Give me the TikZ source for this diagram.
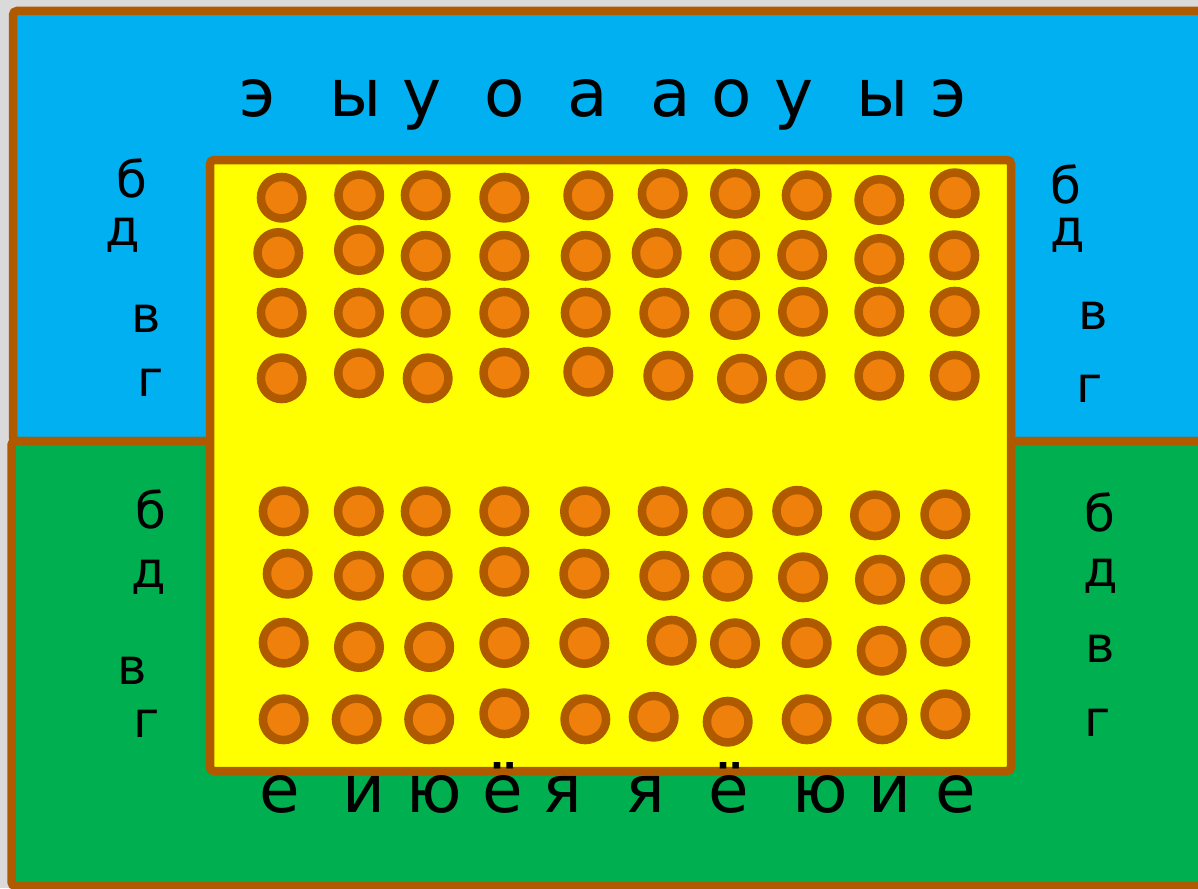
\documentclass[tikz,border=0pt]{standalone}
\usepackage{fontspec}
\setmainfont{DejaVu Sans}
\definecolor{bg}{HTML}{DADADA}
\definecolor{sky}{HTML}{00B0F0}
\definecolor{grn}{HTML}{00B050}
\definecolor{ylw}{HTML}{FFFF00}
\definecolor{brn}{HTML}{B05A00}
\definecolor{org}{HTML}{F0800C}
\tikzset{
  panel/.style={draw=brn, line width=8.5pt, rounded corners=4pt},
  dot/.style={circle, draw=brn, fill=org, line width=8.5pt, minimum size=41.5pt, inner sep=0pt},
  bigletter/.style={anchor=base, inner sep=0pt, font=\fontsize{66}{70}\selectfont},
  sideletter/.style={anchor=base, inner sep=0pt, font=\fontsize{50}{54}\selectfont}
}
\begin{document}
\begin{tikzpicture}[x=1pt,y=-1pt]
\useasboundingbox (0,0) rectangle (1198,888);
\clip (0,0) rectangle (1198,888);
\fill[bg] (0,0) rectangle (1198,888);
% panels
\draw[panel, fill=sky] (13,11) rectangle (1220,441);
\draw[panel, fill=grn] (11.5,441) rectangle (1220,886);
\draw[panel, fill=ylw] (210,160) rectangle (1011,771);
% circles
\foreach \x/\y [count=\i] in {281.7/197.7,359.2/195.3,425.7/195.3,504.3/197.7,588.3/195.3,662.7/193.7,735/193.7,806.7/195.3,879.3/200,954.7/193.3}
  \node[dot] (c1-\i) at (\x,\y) {};
\foreach \x/\y [count=\i] in {278.3/253,359/250,425.7/255.8,504.3/255.8,585.7/255.8,656.7/253,735/255.3,802.2/255,879.3/259,954.3/255.3}
  \node[dot] (c2-\i) at (\x,\y) {};
\foreach \x/\y [count=\i] in {281.7/312.7,359/312.7,425.7/312.7,504.3/312.7,585.7/312.7,664.3/312.7,735/315,803/311.7,879.3/311.7,954.7/311.7}
  \node[dot] (c3-\i) at (\x,\y) {};
\foreach \x/\y [count=\i] in {281.7/378.3,359/373.3,427.7/378.3,504.3/372.7,588.3/371.7,668.3/375.7,742/378.7,800.7/375.7,879.3/375.7,954.7/375.7}
  \node[dot] (c4-\i) at (\x,\y) {};
\foreach \x/\y [count=\i] in {283.7/511.3,358.8/511.3,425.7/511.3,504.3/511.3,585/511.3,662.7/511.2,727.7/513,797.2/510.8,875/515.3,945.3/514.3}
  \node[dot] (c5-\i) at (\x,\y) {};
\foreach \x/\y [count=\i] in {287.7/573.7,359/575.7,427.7/575.7,504.3/571.7,584.3/573.7,664.3/575.7,727.7/576.7,803/577.3,880/579.7,945.3/579.3}
  \node[dot] (c6-\i) at (\x,\y) {};
\foreach \x/\y [count=\i] in {283.7/642.7,359/647,429.2/647,504.3/643,584.3/643,671.7/640.7,735/643.3,806.7/643,881.7/650.7,945.3/641.7}
  \node[dot] (c7-\i) at (\x,\y) {};
\foreach \x/\y [count=\i] in {283.7/719.3,356.7/719.3,429.2/719.3,504.3/713.3,585.3/719.3,653.7/716.7,727.7/721.7,806.7/719.3,882.3/719.3,945.3/714.3}
  \node[dot] (c8-\i) at (\x,\y) {};
% top letters
\foreach \l/\x [count=\i] in {э/258,ы/355.6,у/421.6,о/504.6,а/587.5,а/670.6,о/731.6,у/793.9,ы/882.7,э/949}
  \node[bigletter] (top\i) at (\x,117) {\l};
% bottom letters
\foreach \l/\x [count=\i] in {е/279.4,и/363.8,ю/434.7,ё/502.3,я/562.2,я/645.4,ё/728.9,ю/820,и/890,е/955.6}
  \node[bigletter] (bot\i) at (\x,812) {\l};
% side letters
\node[sideletter] (ltb) at (132,197) {б};
\node[sideletter] (ltd) at (123,245) {д};
\node[sideletter] (ltv) at (146,332) {в};
\node[sideletter] (ltg) at (151,396) {г};
\node[sideletter] (rtb) at (1066,203) {б};
\node[sideletter] (rtd) at (1067.5,245) {д};
\node[sideletter] (rtv) at (1093,329) {в};
\node[sideletter] (rtg) at (1090,402) {г};
\node[sideletter] (lbb) at (151,528) {б};
\node[sideletter] (lbd) at (149,587) {д};
\node[sideletter] (lbv) at (132,684) {в};
\node[sideletter] (lbg) at (147,737) {г};
\node[sideletter] (rbb) at (1099.5,531) {б};
\node[sideletter] (rbd) at (1101,586) {д};
\node[sideletter] (rbv) at (1100,662) {в};
\node[sideletter] (rbg) at (1098,736) {г};
\end{tikzpicture}
\end{document}
